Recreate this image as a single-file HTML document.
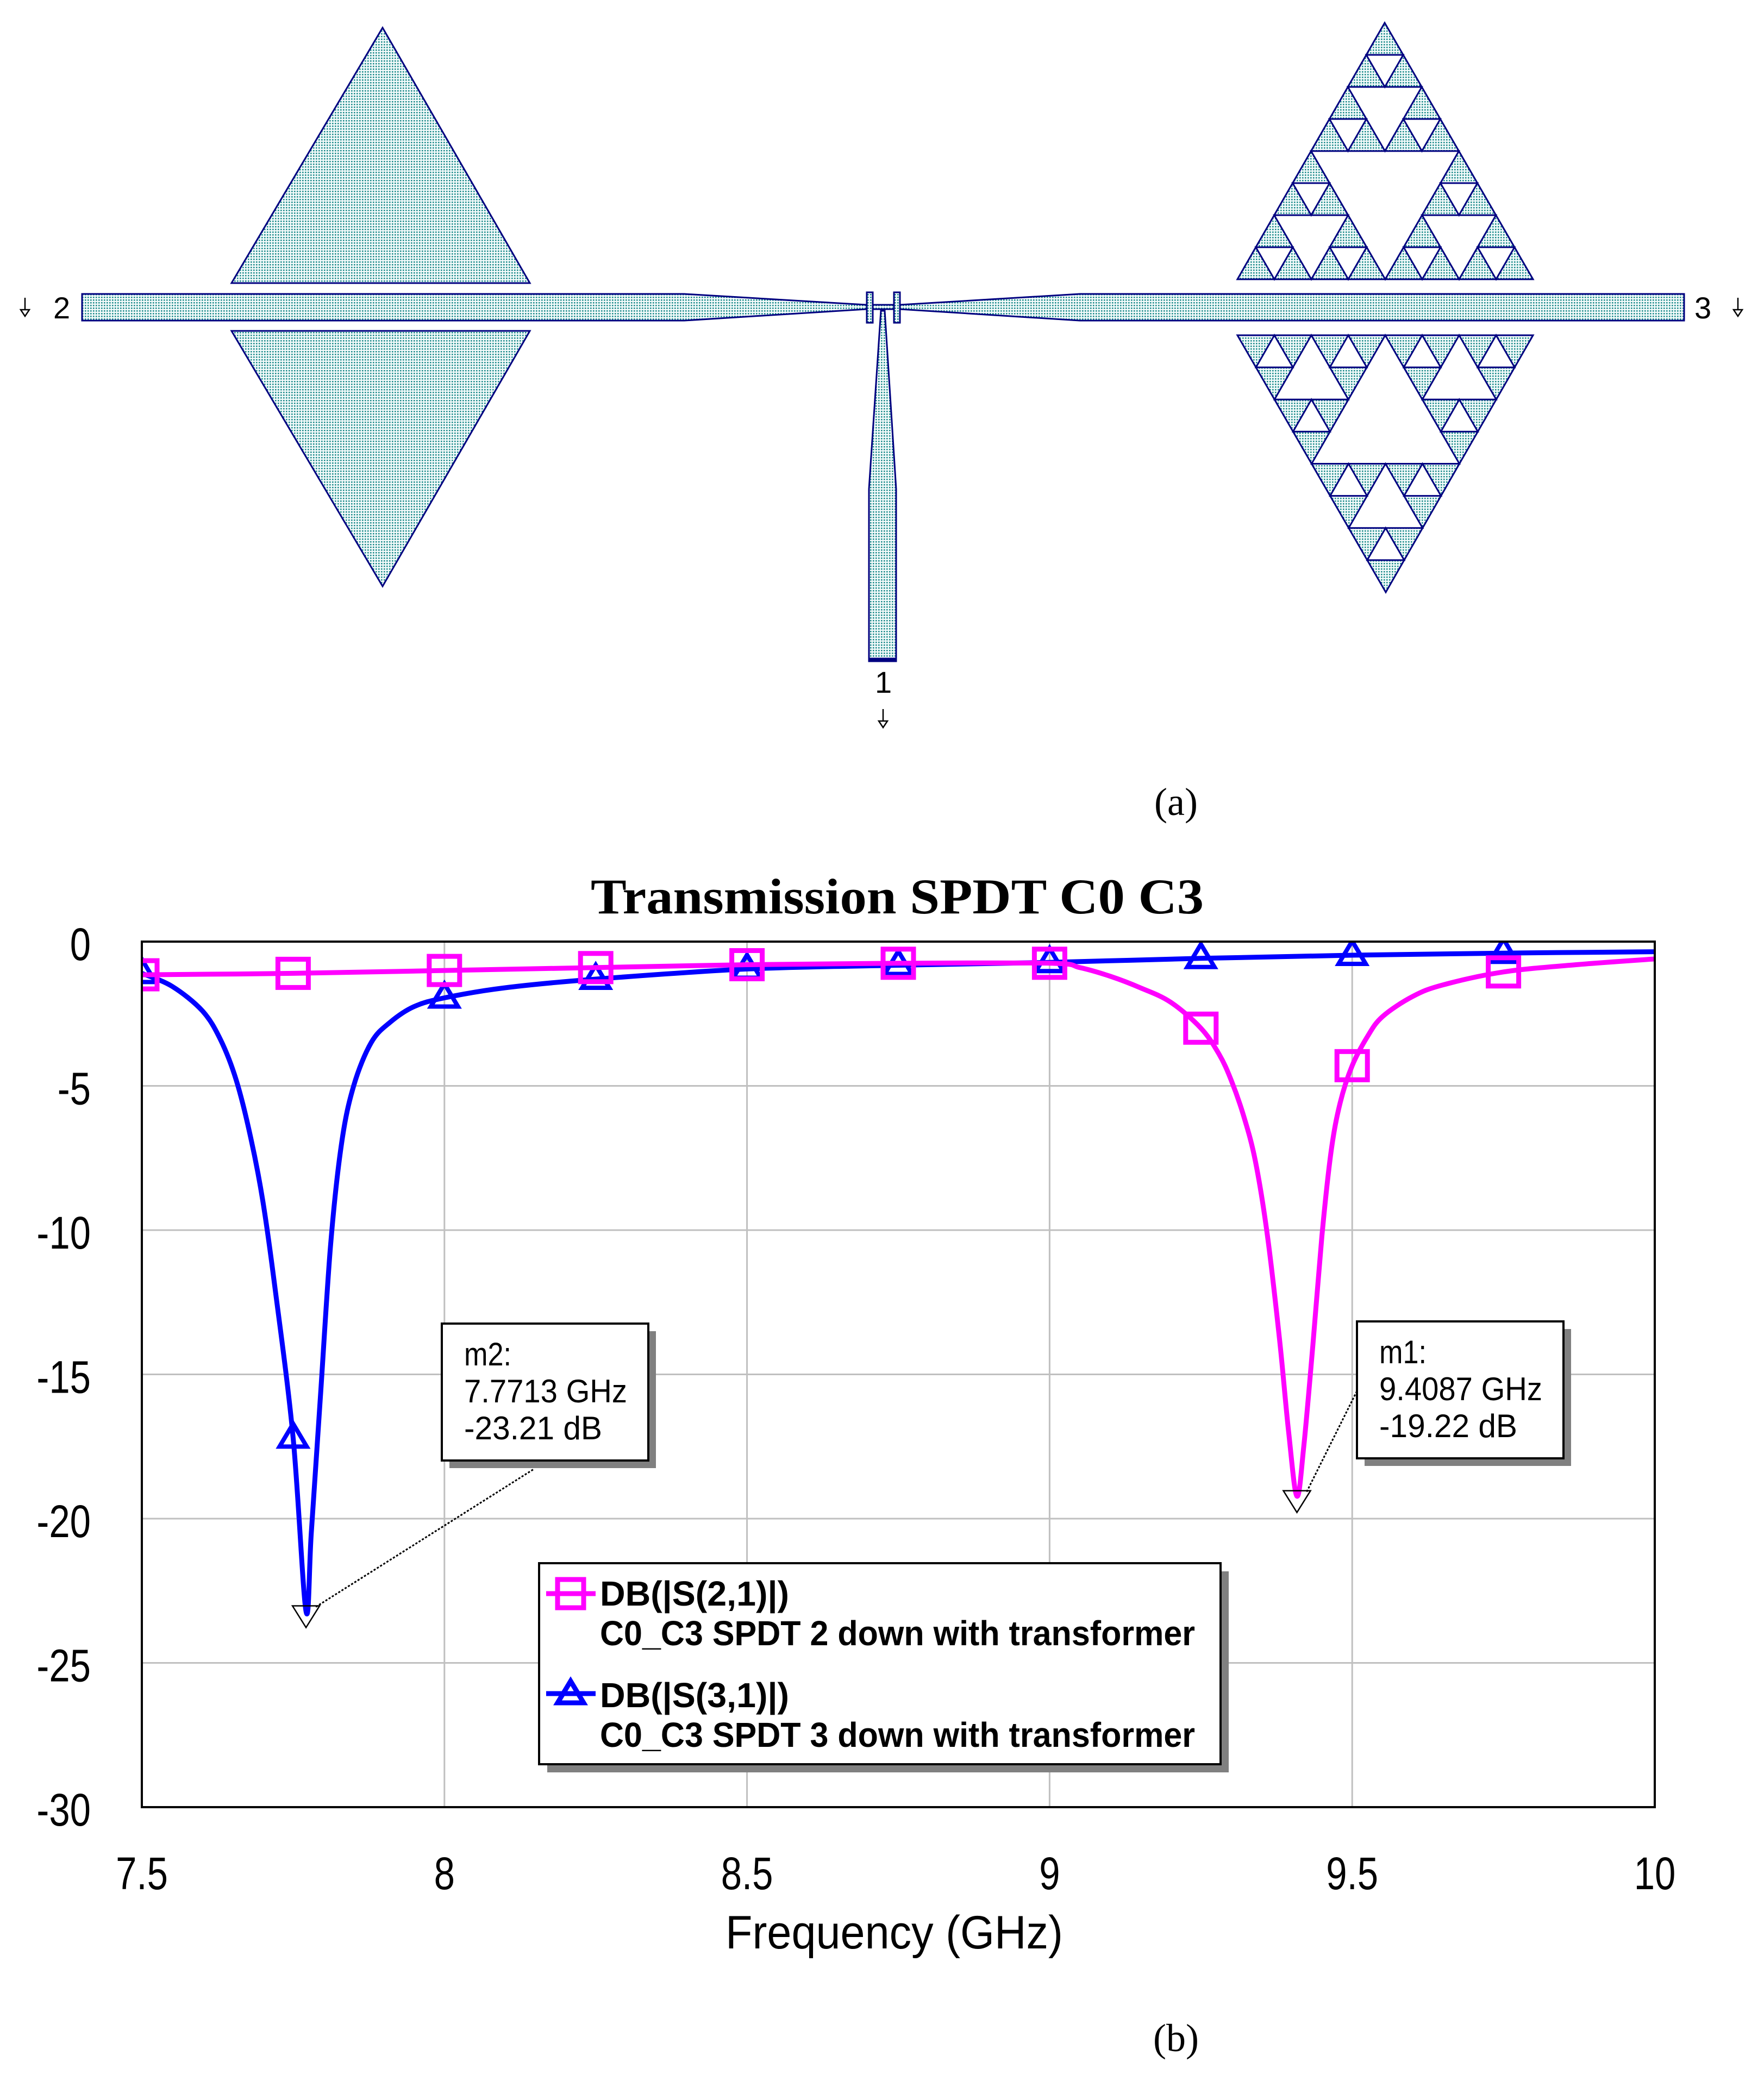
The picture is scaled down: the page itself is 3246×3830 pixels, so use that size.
<!DOCTYPE html>
<html><head><meta charset="utf-8"><style>
html,body{margin:0;padding:0;background:#fff;}
svg{display:block;}
</style></head><body>
<svg id="root" xmlns="http://www.w3.org/2000/svg" width="3246" height="3830" viewBox="0 0 3246 3830">
<defs>
<pattern id="dots" width="5" height="5" patternUnits="userSpaceOnUse"><rect width="5" height="5" fill="#f4fbfb"/><rect x="1" y="1" width="2.6" height="2.6" fill="#1e8c8c"/></pattern>
<clipPath id="plotclip"><rect x="261" y="1733" width="2784" height="1593"/></clipPath>
</defs>
<rect width="3246" height="3830" fill="#fff"/>
<g id="layout" stroke="#000080" stroke-width="3" fill="url(#dots)">
  <polygon points="704,51 975,521 426,521"/>
  <polygon points="426,609 975,609 704,1079"/>
  <polygon points="151,541 1259,541 1594,561 1600,561 1600,569 1594,569 1259,590 151,590"/>
  <polygon points="1650,561 1656,561 1987,541 3099,541 3099,590 1987,590 1656,569 1650,569"/>
  <rect x="1600" y="561" width="50" height="8"/>
  <polygon points="1621,572 1628,572 1649,900 1649,1216 1599,1216 1599,900"/>
  <rect x="1595" y="538" width="11" height="56"/>
  <rect x="1645" y="538" width="11" height="56"/>
  <rect x="1599" y="1212" width="50" height="5" fill="#000080"/>
  <g id="sier"></g>
</g>
<g font-family="Liberation Sans, sans-serif" font-size="56" fill="#000">
  <text x="98" y="586">2</text>
  <text x="3118" y="586">3</text>
  <text x="1610" y="1275">1</text>
</g>
<g stroke="#000" stroke-width="2.5" fill="none">
  <path d="M46,548 V570 M38,570 H54 L46,582 Z"/>
  <path d="M3198,548 V570 M3190,570 H3206 L3198,582 Z"/>
  <path d="M1625,1305 V1327 M1617,1327 H1633 L1625,1339 Z"/>
</g>
<text x="2164" y="1500" text-anchor="middle" font-family="Liberation Serif, serif" font-size="72">(a)</text>

<text x="1087" y="1681" textLength="1128" lengthAdjust="spacingAndGlyphs" font-family="Liberation Serif, serif" font-weight="bold" font-size="92">Transmission SPDT C0 C3</text>
<g id="grid"></g>
<g id="curves" clip-path="url(#plotclip)"></g>
<rect x="261" y="1733" width="2784" height="1593" fill="none" stroke="#000" stroke-width="4"/>
<g id="xticks" font-family="Liberation Sans, sans-serif" font-size="84"></g>
<g id="yticks" font-family="Liberation Sans, sans-serif" font-size="84"></g>
<text x="1335" y="3586" textLength="621" lengthAdjust="spacingAndGlyphs" font-family="Liberation Sans, sans-serif" font-size="86">Frequency (GHz)</text>

<g id="markers"></g>

<g>
  <rect x="1007" y="2892" width="1254" height="370" fill="#808080"/>
  <rect x="992" y="2877" width="1254" height="370" fill="#fff" stroke="#000" stroke-width="4"/>
  <g>
    <line x1="1005" y1="2933" x2="1096" y2="2933" stroke="#ff00ff" stroke-width="9"/>
    <rect x="1026" y="2907" width="48" height="52" fill="none" stroke="#ff00ff" stroke-width="9"/>
    <text x="1104" y="2955" textLength="348" lengthAdjust="spacingAndGlyphs" font-family="Liberation Sans, sans-serif" font-weight="bold" font-size="64">DB(|S(2,1)|)</text>
    <text x="1104" y="3028" textLength="1095" lengthAdjust="spacingAndGlyphs" font-family="Liberation Sans, sans-serif" font-weight="bold" font-size="64">C0_C3 SPDT 2 down with transformer</text>
  </g>
  <g>
    <line x1="1005" y1="3117" x2="1096" y2="3117" stroke="#0000ff" stroke-width="9"/>
    <polygon points="1050,3094 1074,3134 1026,3134" fill="none" stroke="#0000ff" stroke-width="9"/>
    <text x="1104" y="3142" textLength="348" lengthAdjust="spacingAndGlyphs" font-family="Liberation Sans, sans-serif" font-weight="bold" font-size="64">DB(|S(3,1)|)</text>
    <text x="1104" y="3215" textLength="1095" lengthAdjust="spacingAndGlyphs" font-family="Liberation Sans, sans-serif" font-weight="bold" font-size="64">C0_C3 SPDT 3 down with transformer</text>
  </g>
</g>
<text x="2164" y="3775" text-anchor="middle" font-family="Liberation Serif, serif" font-size="72">(b)</text>
</svg>
<script>
const NS = "http://www.w3.org/2000/svg";
// ---- chart data ----
const xTickValues = [7.5, 8, 8.5, 9, 9.5, 10];
const xTickLabels = ["7.5", "8", "8.5", "9", "9.5", "10"];
const yTickValues = [0, -5, -10, -15, -20, -25, -30];
const yTickLabels = ["0", "-5", "-10", "-15", "-20", "-25", "-30"];
const freqS21 = [7.5, 7.75, 8.0, 8.25, 8.5, 8.75, 9.0, 9.05, 9.1, 9.15, 9.2, 9.25, 9.28, 9.3, 9.32, 9.34, 9.36, 9.38, 9.395, 9.4087, 9.42, 9.435, 9.45, 9.465, 9.48, 9.5, 9.525, 9.55, 9.6, 9.65, 9.75, 9.87, 10];
const dbS21 = [-1.15, -1.1, -1.0, -0.9, -0.8, -0.75, -0.75, -0.9, -1.2, -1.6, -2.1, -3.0, -3.9, -4.8, -6.0, -7.6, -10.2, -13.8, -17.0, -19.22, -17.5, -14.0, -10.2, -7.3, -5.6, -4.3, -3.3, -2.6, -1.9, -1.5, -1.05, -0.8, -0.6];
const freqS31 = [7.5, 7.55, 7.6, 7.63, 7.656, 7.68, 7.7, 7.72, 7.75, 7.7713, 7.78, 7.795, 7.812, 7.83, 7.85, 7.879, 7.91, 7.95, 8.0, 8.1, 8.25, 8.5, 8.75, 9.0, 9.25, 9.5, 9.75, 10];
const dbS31 = [-1.1, -1.55, -2.4, -3.4, -4.8, -6.8, -9.0, -12, -17.2, -23.21, -20.5, -15.8, -10.5, -7.0, -5.0, -3.5, -2.8, -2.25, -1.95, -1.6, -1.3, -0.95, -0.82, -0.72, -0.58, -0.47, -0.4, -0.35];
const markerFreqs = [7.5, 7.75, 8.0, 8.25, 8.5, 8.75, 9.0, 9.25, 9.5, 9.75];
const m1Freq = 9.4087, m1Db = -19.22;
const m2Freq = 7.7713, m2Db = -23.21;

const X0 = 261, X1 = 3045, Y0 = 1733, Y1 = 3326;
function xs(f){ return X0 + (f - 7.5) / 2.5 * (X1 - X0); }
function ys(d){ return Y0 + (0 - d) / 30 * (Y1 - Y0); }
function interp(fa, da, f){
  for (let i = 0; i < fa.length - 1; i++) {
    if (f >= fa[i] && f <= fa[i+1]) { const t = (f - fa[i]) / (fa[i+1] - fa[i]); return da[i] + t * (da[i+1] - da[i]); }
  }
  return da[da.length - 1];
}
function mk(tag, attrs, parent){ const e = document.createElementNS(NS, tag); for (const k in attrs) e.setAttribute(k, attrs[k]); parent.appendChild(e); return e; }

const grid = document.getElementById('grid');
xTickValues.forEach((v) => {
  const l = mk('line', {x1: xs(v), x2: xs(v), y1: Y0, y2: Y1, stroke: '#c0c0c0', 'stroke-width': 3}, grid);
  
  
});
yTickValues.forEach((v) => {
  const l = mk('line', {x1: X0, x2: X1, y1: ys(v), y2: ys(v), stroke: '#c0c0c0', 'stroke-width': 3}, grid);
  
  
});
const xg = document.getElementById('xticks');
xTickValues.forEach((v, i) => {
  const t = mk('text', {x: xs(v), y: 3477, 'text-anchor': 'middle'}, xg);
  t.textContent = xTickLabels[i];
  
  
  const w = t.getComputedTextLength(); t.setAttribute('textLength', (w * 0.82).toFixed(1)); t.setAttribute('lengthAdjust', 'spacingAndGlyphs');
});
const yg = document.getElementById('yticks');
yTickValues.forEach((v, i) => {
  const t = mk('text', {x: 167, y: ys(v) + 34, 'text-anchor': 'end'}, yg);
  t.textContent = yTickLabels[i];
  
  
  const w = t.getComputedTextLength(); t.setAttribute('textLength', (w * 0.82).toFixed(1)); t.setAttribute('lengthAdjust', 'spacingAndGlyphs');
});
function pathFrom(fa, da){
  const p = fa.map((f, i) => [xs(f), ys(da[i])]);
  let d = 'M' + p[0][0].toFixed(1) + ',' + p[0][1].toFixed(1);
  for (let i = 0; i < p.length - 1; i++) {
    const p0 = p[Math.max(0, i-1)], p1 = p[i], p2 = p[i+1], p3 = p[Math.min(p.length-1, i+2)];
    const c1x = p1[0] + (p2[0] - p0[0]) / 6, c1y = p1[1] + (p2[1] - p0[1]) / 6;
    const c2x = p2[0] - (p3[0] - p1[0]) / 6, c2y = p2[1] - (p3[1] - p1[1]) / 6;
    d += ' C' + c1x.toFixed(1) + ',' + c1y.toFixed(1) + ' ' + c2x.toFixed(1) + ',' + c2y.toFixed(1) + ' ' + p2[0].toFixed(1) + ',' + p2[1].toFixed(1);
  }
  return d;
}
const cg = document.getElementById('curves');
const blue = mk('path', {d: pathFrom(freqS31, dbS31), fill: 'none', stroke: '#0000ff', 'stroke-width': 9, 'stroke-linejoin': 'round'}, cg);


markerFreqs.forEach((f) => {
  const x = xs(f), y = ys(interp(freqS31, dbS31, f));
  const tri = mk('polygon', {points: `${x},${y-26} ${x+25},${y+16} ${x-25},${y+16}`, fill: 'none', stroke: '#0000ff', 'stroke-width': 8}, cg);
  
  
});
const pink = mk('path', {d: pathFrom(freqS21, dbS21), fill: 'none', stroke: '#ff00ff', 'stroke-width': 9, 'stroke-linejoin': 'round'}, cg);


markerFreqs.forEach((f) => {
  const x = xs(f), y = ys(interp(freqS21, dbS21, f));
  const sq = mk('rect', {x: x - 28, y: y - 26, width: 56, height: 52, fill: 'none', stroke: '#ff00ff', 'stroke-width': 9}, cg);
  
  
});
const mg = document.getElementById('markers');
function annot(name, f, db, bx, by, lx2, ly2, lines){
  const px = xs(f), py = ys(db);
  const ln = mk('line', {x1: px + 18, y1: py - 8, x2: lx2, y2: ly2, stroke: '#000', 'stroke-width': 3, 'stroke-dasharray': '4,3'}, mg);
  
  
  const tri = mk('polygon', {points: `${px-25},${py-10} ${px+25},${py-10} ${px},${py+30}`, fill: 'none', stroke: '#000', 'stroke-width': 2.5}, mg);
  
  
  const sh = mk('rect', {x: bx + 14, y: by + 14, width: 380, height: 252, fill: '#808080'}, mg);
  
  
  const box = mk('rect', {x: bx, y: by, width: 380, height: 252, fill: '#fff', stroke: '#000', 'stroke-width': 4}, mg);
  
  
  const widths = [87, 300, 254];
  lines.forEach((s, i) => {
    const t = mk('text', {x: bx + 41, y: by + 77 + i * 68, 'font-family': 'Liberation Sans, sans-serif', 'font-size': 60, textLength: widths[i], lengthAdjust: 'spacingAndGlyphs'}, mg);
    t.textContent = s;
    
    
  });
}
annot('m2', m2Freq, m2Db, 813, 2436, 982, 2704, ['m2:', m2Freq.toFixed(4) + ' GHz', m2Db.toFixed(2) + ' dB']);
annot('m1', m1Freq, m1Db, 2497, 2432, 2497, 2560, ['m1:', m1Freq.toFixed(4) + ' GHz', m1Db.toFixed(2) + ' dB']);

const sg = document.getElementById('sier');
function holes(a, b, c, depth){
  if (depth === 0) return;
  const ab = [(a[0]+b[0])/2, (a[1]+b[1])/2], bc = [(b[0]+c[0])/2, (b[1]+c[1])/2], ca = [(c[0]+a[0])/2, (c[1]+a[1])/2];
  const h = mk('polygon', {points: `${ab} ${bc} ${ca}`, fill: '#fff'}, sg);
  
  
  holes(a, ab, ca, depth-1); holes(ab, b, bc, depth-1); holes(ca, bc, c, depth-1);
}
const up = mk('polygon', {points: '2548,42 2821,514 2277,514'}, sg);


holes([2548,42],[2821,514],[2277,514],3);
const dn = mk('polygon', {points: '2277,617 2821,617 2550,1090'}, sg);


holes([2277,617],[2821,617],[2550,1090],3);
</script>
</body></html>
